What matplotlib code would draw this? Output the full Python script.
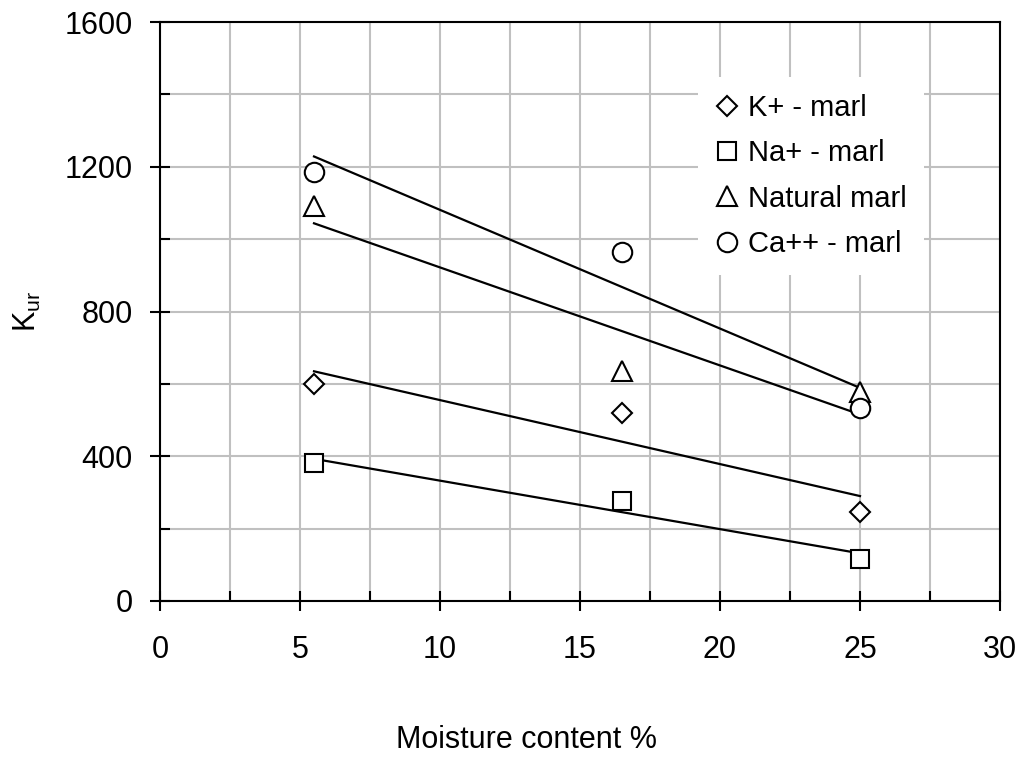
import numpy as np
import matplotlib
matplotlib.use("Agg")
import matplotlib.pyplot as plt
from matplotlib.ticker import MultipleLocator

plt.rcParams['font.family'] = ['Liberation Sans', 'DejaVu Sans']
plt.rcParams['mathtext.fontset'] = 'custom'
plt.rcParams['mathtext.rm'] = 'Liberation Sans'

moisture = [5.5, 16.5, 25.0]
k_marl = [600, 520, 245]
na_marl = [380, 275, 115]
natural_marl = [1092, 635, 578]
ca_marl = [1186, 965, 534]

series = [
    ("K+ - marl", k_marl, "D", 10),
    ("Na+ - marl", na_marl, "s", 13),
    ("Natural marl", natural_marl, "^", 15),
    ("Ca++ - marl", ca_marl, "o", 14),
]

FS = 22
LFS = 21
fig = plt.figure(figsize=(10.22, 7.75), dpi=100)
ax = fig.add_axes([160/1022, 1-601/775, 840/1022, 579/775])

x = np.array(moisture)
handles = []
for label, vals, mk, ms in series:
    h, = ax.plot(x, vals, linestyle='none', marker=mk, markersize=ms,
                 markerfacecolor='white', markeredgecolor='black',
                 markeredgewidth=1.5, label=label, zorder=4)
    handles.append(h)
    coef = np.polyfit(x, np.array(vals, dtype=float), 1)
    xs = np.array([x.min(), x.max()])
    ax.plot(xs, np.polyval(coef, xs), color='black', linewidth=1.6, zorder=3)

ax.set_xlim(0, 30)
ax.set_ylim(0, 1600)
ax.xaxis.set_major_locator(MultipleLocator(5))
ax.xaxis.set_minor_locator(MultipleLocator(2.5))
ax.yaxis.set_major_locator(MultipleLocator(400))
ax.yaxis.set_minor_locator(MultipleLocator(200))
ax.grid(which='both', color='#c0c0c0', linewidth=1.5, zorder=0)
ax.set_axisbelow(True)

ax.tick_params(which='major', direction='inout', length=15, width=1.5,
               labelsize=FS)
ax.tick_params(axis='x', which='major', pad=17)
ax.tick_params(axis='y', which='major', pad=12)
ax.tick_params(which='minor', direction='in', length=7, width=1.5)
for s in ax.spines.values():
    s.set_linewidth(1.5)
    s.set_color('black')

ax.set_xlabel('Moisture content %', fontsize=FS)
ax.xaxis.label.set_va('center')
ax.xaxis.set_label_coords((526-160)/840, (601-740)/579)
ax.set_ylabel(r'K$_{\mathregular{ur}}$', fontsize=FS)
ax.yaxis.label.set_va('center')
ax.yaxis.set_label_coords((27-160)/840, 0.5)

leg = ax.legend(handles=handles, loc='center',
                bbox_to_anchor=((811-160)/840, (601-176)/579),
                fontsize=LFS, frameon=True, fancybox=False, framealpha=1,
                facecolor='white', edgecolor='none', numpoints=1,
                handlelength=0.8, handletextpad=0.3, labelspacing=0.59,
                borderpad=0.6)
leg.set_zorder(5)

fig.savefig('out.png', dpi=100)
